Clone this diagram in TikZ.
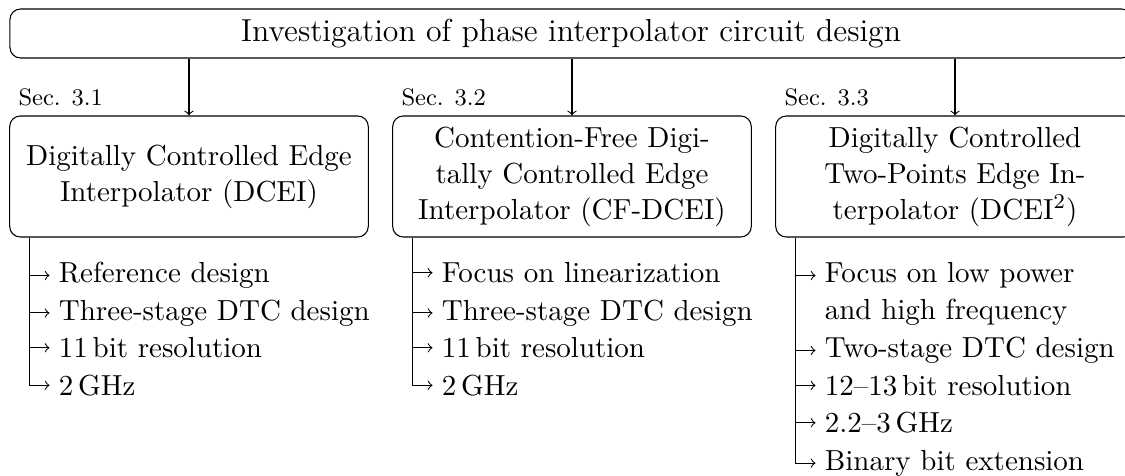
\documentclass[tikz,border=0pt]{standalone}
\usetikzlibrary{calc}
\tikzset{
  topbox/.style={draw, rounded corners=4pt, minimum width=423.7pt, minimum height=18.5pt,
    inner sep=0pt, font=\fontsize{12}{14.5}\selectfont},
  secbox/.style={draw, rounded corners=4pt, minimum width=135.4pt, minimum height=45.7pt,
    align=center, inner sep=2pt, font=\fontsize{10.95}{13.6}\selectfont},
  seclabel/.style={anchor=base west, inner sep=0pt, font=\fontsize{9}{11}\selectfont},
  itemtext/.style={anchor=base west, font=\fontsize{10.95}{14.2}\selectfont},
  link/.style={->},
  listline/.style={->},
}
\begin{document}
\begin{tikzpicture}[x=0.3776pt, y=0.3776pt]
\useasboundingbox (0,0) rectangle (1125,-476);

\node[topbox] (top) at (571,-33.5) {Investigation of phase interpolator circuit design};

\node[secbox] (b1) at (189,-176.5) {Digitally Controlled Edge\\Interpolator (DCEI)};
\node[secbox] (b2) at (572,-176.5) {Contention-Free Digi-\\tally Controlled Edge\\Interpolator (CF-DCEI)};
\node[secbox] (b3) at (955,-176.5) {Digitally Controlled\\Two-Points Edge In-\\terpolator (DCEI$^2$)};

\node[seclabel] (s1) at (18,-106) {Sec. 3.1};
\node[seclabel] (s2) at (401,-106) {Sec. 3.2};
\node[seclabel] (s3) at (784,-106) {Sec. 3.3};

\draw[link] (top.south -| b1.north) -- (b1.north);
\draw[link] (top.south -| b2.north) -- (b2.north);
\draw[link] (top.south -| b3.north) -- (b3.north);

\coordinate (c1) at ([xshift=7.55pt]b1.south west);
\coordinate (c2) at ([xshift=7.55pt]b2.south west);
\coordinate (c3) at ([xshift=7.55pt]b3.south west);

% column 1
\node[itemtext] (i11) at (49.5,-282.7) {Reference design};
\node[itemtext] (i12) at (49.5,-320.2) {Three-stage DTC design};
\node[itemtext] (i13) at (49.5,-357.7) {11\,bit resolution};
\node[itemtext] (i14) at (49.5,-395.2) {2\,GHz};
\foreach \n in {i11,i12,i13,i14} \draw[listline] (c1) |- (\n.west);

% column 2
\node[itemtext] (i21) at (432.5,-282.7) {Focus on linearization};
\node[itemtext] (i22) at (432.5,-320.2) {Three-stage DTC design};
\node[itemtext] (i23) at (432.5,-357.7) {11\,bit resolution};
\node[itemtext] (i24) at (432.5,-395.2) {2\,GHz};
\foreach \n in {i21,i22,i23,i24} \draw[listline] (c2) |- (\n.west);

% column 3
\node[itemtext, anchor=north west, align=left] (i31) at (815.5,-252.9) {Focus on low power\\and high frequency};
\node[itemtext] (i32) at (815.5,-357.7) {Two-stage DTC design};
\node[itemtext] (i33) at (815.5,-395.2) {12--13\,bit resolution};
\node[itemtext] (i34) at (815.5,-432.7) {2.2--3\,GHz};
\node[itemtext] (i35) at (815.5,-470.2) {Binary bit extension};
\draw[listline] (c3) |- ([yshift=-8.53pt]i31.north west);
\foreach \n in {i32,i33,i34,i35} \draw[listline] (c3) |- (\n.west);
\end{tikzpicture}
\end{document}
